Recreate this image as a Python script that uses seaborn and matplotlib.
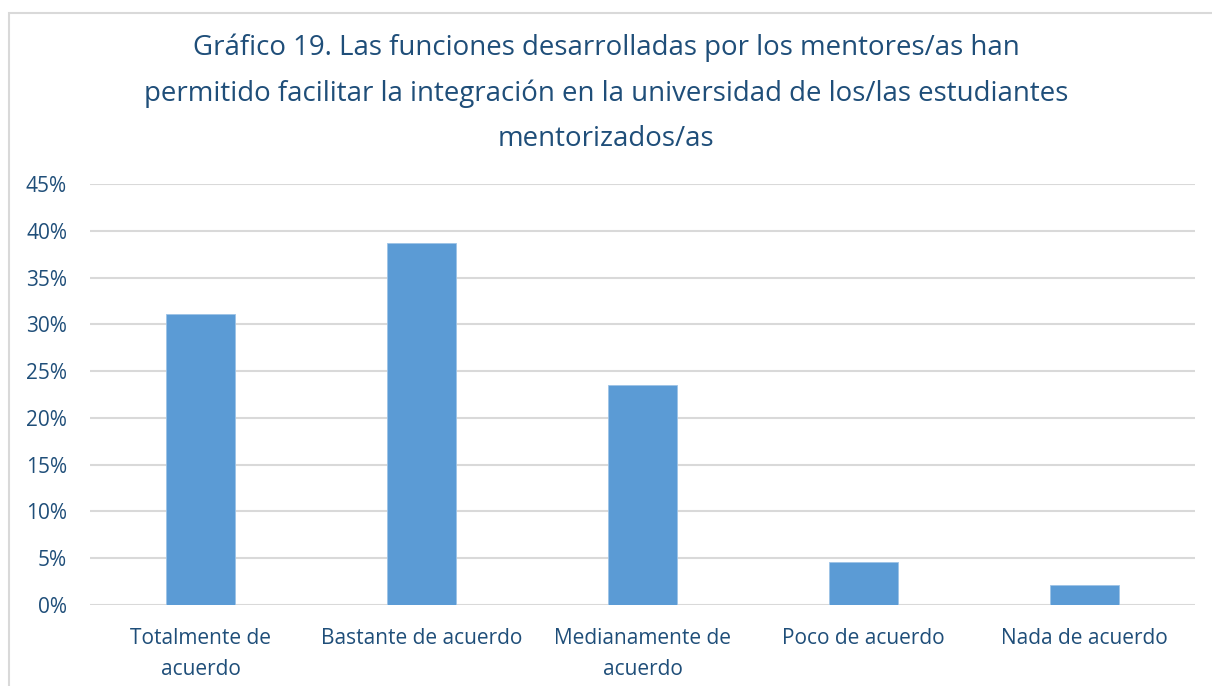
import matplotlib
matplotlib.use("Agg")
import matplotlib.pyplot as plt
import seaborn as sns
import pandas as pd
from matplotlib.patches import Rectangle
from matplotlib.ticker import MultipleLocator, FuncFormatter

categories = ["Totalmente de\nacuerdo", "Bastante de acuerdo", "Medianamente de\nacuerdo",
              "Poco de acuerdo", "Nada de acuerdo"]
values = [31.1, 38.7, 23.5, 4.6, 2.1]
title = ("Gráfico 19. Las funciones desarrolladas por los mentores/as han\n"
         "permitido facilitar la integración en la universidad de los/las estudiantes\n"
         "mentorizados/as")

sns.set_theme(style="white")
plt.rcParams['font.family'] = ['Open Sans', 'DejaVu Sans']
text_color = "#1F4E79"
bar_color = "#5B9BD5"
grid_color = "#D9D9D9"

fig = plt.figure(figsize=(12.12, 6.86), dpi=100)
ax = fig.add_axes([90/1212, 1-605/686, (1195-90)/1212, (605-184)/686])

df = pd.DataFrame({"cat": categories, "val": values})
sns.barplot(data=df, x="cat", y="val", color=bar_color, width=0.31, ax=ax,
            saturation=1, edgecolor="#9DC3E6", linewidth=0.6, zorder=3)

ax.set_ylim(0, 45)
ax.set_xlim(-0.5, 4.5)
ax.yaxis.set_major_locator(MultipleLocator(5))
ax.yaxis.set_major_formatter(FuncFormatter(lambda v, p: f"{int(round(v))}%"))
ax.grid(axis="y", color=grid_color, linewidth=1.5, zorder=0)
ax.set_axisbelow(True)
for s in ["top", "right", "left", "bottom"]:
    ax.spines[s].set_visible(False)
ax.set_xlabel("")
ax.set_ylabel("")
ax.tick_params(axis="both", length=0, colors=text_color, labelsize=15)
ax.tick_params(axis="y", pad=16.5)
ax.tick_params(axis="x", pad=16.5)
for lbl in ax.get_xticklabels():
    lbl.set_linespacing(1.62)

fig.text(0.5, 1-93/686, title, ha="center", va="center", color=text_color,
         fontsize=19.9, linespacing=1.8)

fig.patches.append(Rectangle((9/1212, -0.01), 1.05, 1-13/686+0.01, transform=fig.transFigure,
                             fill=False, edgecolor="#D9D9D9", linewidth=1.5))

fig.savefig("out.png", dpi=100)
